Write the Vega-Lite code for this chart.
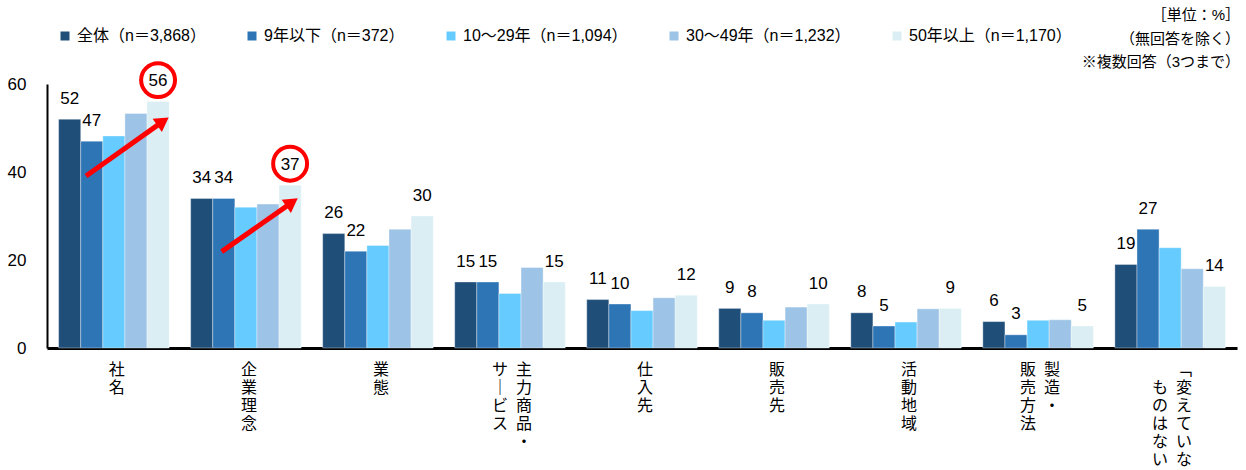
{
  "$schema": "https://vega.github.io/schema/vega-lite/v6.json",
  "width": 1190,
  "height": 264,
  "autosize": {"type": "none"},
  "padding": {"left": 47, "top": 84, "right": 9, "bottom": 122},
  "background": "white",
  "config": {
    "view": {"stroke": null},
    "font": "Liberation Sans, Noto Sans CJK JP",
    "axis": {"grid": false, "ticks": false, "labelColor": "black", "domainColor": "black"}
  },
  "title": {
    "text": ["［単位：%］", "（無回答を除く）", "※複数回答（3つまで）"],
    "anchor": "end",
    "frame": "group",
    "orient": "top",
    "fontSize": 15,
    "fontWeight": "normal",
    "lineHeight": 23.5,
    "offset": -42,
    "dx": 3,
    "color": "black",
    "font": "Liberation Sans, Noto Sans CJK JP"
  },
  "datasets": {
    "answers": [
      {"item": "社名", "series": "全体（n＝3,868）", "value": 52},
      {"item": "社名", "series": "9年以下（n＝372）", "value": 47},
      {"item": "社名", "series": "10～29年（n＝1,094）", "value": 48.2},
      {"item": "社名", "series": "30～49年（n＝1,232）", "value": 53.3},
      {"item": "社名", "series": "50年以上（n＝1,170）", "value": 56},
      {"item": "企業理念", "series": "全体（n＝3,868）", "value": 34},
      {"item": "企業理念", "series": "9年以下（n＝372）", "value": 34},
      {"item": "企業理念", "series": "10～29年（n＝1,094）", "value": 32.0},
      {"item": "企業理念", "series": "30～49年（n＝1,232）", "value": 32.7},
      {"item": "企業理念", "series": "50年以上（n＝1,170）", "value": 37},
      {"item": "業態", "series": "全体（n＝3,868）", "value": 26},
      {"item": "業態", "series": "9年以下（n＝372）", "value": 22},
      {"item": "業態", "series": "10～29年（n＝1,094）", "value": 23.3},
      {"item": "業態", "series": "30～49年（n＝1,232）", "value": 27.0},
      {"item": "業態", "series": "50年以上（n＝1,170）", "value": 30},
      {"item": "主力商品・サービス", "series": "全体（n＝3,868）", "value": 15},
      {"item": "主力商品・サービス", "series": "9年以下（n＝372）", "value": 15},
      {"item": "主力商品・サービス", "series": "10～29年（n＝1,094）", "value": 12.4},
      {"item": "主力商品・サービス", "series": "30～49年（n＝1,232）", "value": 18.3},
      {"item": "主力商品・サービス", "series": "50年以上（n＝1,170）", "value": 15},
      {"item": "仕入先", "series": "全体（n＝3,868）", "value": 11},
      {"item": "仕入先", "series": "9年以下（n＝372）", "value": 10},
      {"item": "仕入先", "series": "10～29年（n＝1,094）", "value": 8.5},
      {"item": "仕入先", "series": "30～49年（n＝1,232）", "value": 11.4},
      {"item": "仕入先", "series": "50年以上（n＝1,170）", "value": 12},
      {"item": "販売先", "series": "全体（n＝3,868）", "value": 9},
      {"item": "販売先", "series": "9年以下（n＝372）", "value": 8},
      {"item": "販売先", "series": "10～29年（n＝1,094）", "value": 6.3},
      {"item": "販売先", "series": "30～49年（n＝1,232）", "value": 9.3},
      {"item": "販売先", "series": "50年以上（n＝1,170）", "value": 10},
      {"item": "活動地域", "series": "全体（n＝3,868）", "value": 8},
      {"item": "活動地域", "series": "9年以下（n＝372）", "value": 5},
      {"item": "活動地域", "series": "10～29年（n＝1,094）", "value": 5.9},
      {"item": "活動地域", "series": "30～49年（n＝1,232）", "value": 8.9},
      {"item": "活動地域", "series": "50年以上（n＝1,170）", "value": 9},
      {"item": "製造・販売方法", "series": "全体（n＝3,868）", "value": 6},
      {"item": "製造・販売方法", "series": "9年以下（n＝372）", "value": 3},
      {"item": "製造・販売方法", "series": "10～29年（n＝1,094）", "value": 6.3},
      {"item": "製造・販売方法", "series": "30～49年（n＝1,232）", "value": 6.4},
      {"item": "製造・販売方法", "series": "50年以上（n＝1,170）", "value": 5},
      {"item": "「変えていない」ものはない", "series": "全体（n＝3,868）", "value": 19},
      {"item": "「変えていない」ものはない", "series": "9年以下（n＝372）", "value": 27},
      {"item": "「変えていない」ものはない", "series": "10～29年（n＝1,094）", "value": 22.8},
      {"item": "「変えていない」ものはない", "series": "30～49年（n＝1,232）", "value": 18.0},
      {"item": "「変えていない」ものはない", "series": "50年以上（n＝1,170）", "value": 14}
    ],
    "arrows": [
      {"fromPos": 0.295, "fromPct": 39.1, "toPos": 0.877, "toPct": 51.5},
      {"fromPos": 1.321, "fromPct": 21.9, "toPos": 1.853, "toPct": 33.1}
    ]
  },
  "layer": [
    {
      "data": {"name": "answers"},
      "encoding": {
        "x": {
          "field": "item",
          "type": "nominal",
          "sort": null,
          "scale": {
            "domain": ["社名", "企業理念", "業態", "主力商品・サービス", "仕入先", "販売先", "活動地域", "製造・販売方法", "「変えていない」ものはない"],
            "paddingInner": 0.163,
            "paddingOuter": 0.088
          },
          "axis": {
            "title": null,
            "labelAngle": 0,
            "labelFontSize": 16,
            "labelLineHeight": 18,
            "labelBaseline": "top",
            "labelPadding": 13,
            "labelAlign": {
              "condition": [
                {"test": "datum.value === '製造・販売方法'", "value": "left"},
                {"test": "datum.value === '主力商品・サービス' || datum.value === '「変えていない」ものはない'", "value": "right"}
              ],
              "value": "center"
            },
            "labelOffset": {
              "condition": [
                {"test": "datum.value === '製造・販売方法'", "value": -18},
                {"test": "datum.value === '主力商品・サービス' || datum.value === '「変えていない」ものはない'", "value": 22}
              ],
              "value": 3
            },
            "labelOverlap": false,
            "labelBound": false,
            "labelLimit": 0,
            "labelFont": "Liberation Sans, Noto Sans CJK JP",
            "domainWidth": 3,
            "labelExpr": "datum.value === '主力商品・サービス' ? ['サ\u2002主', '｜\u2002力', 'ビ\u2002商', 'ス\u2002品', '・'] : datum.value === '製造・販売方法' ? ['販\u2002製', '売\u2002造', '方\u2002・', '法'] : datum.value === '「変えていない」ものはない' ? ['﹁', 'も\u2002変', 'の\u2002え', 'は\u2002て', 'な\u2002い', 'い\u2002な', 'い'] : split(datum.value, '')"
          }
        },
        "xOffset": {
          "field": "series",
          "type": "nominal",
          "sort": null,
          "scale": {
            "domain": ["全体（n＝3,868）", "9年以下（n＝372）", "10～29年（n＝1,094）", "30～49年（n＝1,232）", "50年以上（n＝1,170）"],
            "paddingInner": 0,
            "paddingOuter": 0
          }
        },
        "y": {
          "field": "value",
          "type": "quantitative",
          "scale": {"domain": [0, 60], "nice": false},
          "axis": {
            "title": null,
            "values": [0, 20, 40, 60],
            "labelFontSize": 17,
            "labelPadding": 21,
            "labelFont": "Liberation Sans",
            "domainWidth": 2
          }
        }
      },
      "layer": [
        {
          "mark": {"type": "bar", "stroke": "#ffffff", "strokeWidth": 0.6, "strokeOpacity": 0.6},
          "encoding": {
            "color": {
              "field": "series",
              "type": "nominal",
              "sort": null,
              "scale": {
                "domain": ["全体（n＝3,868）", "9年以下（n＝372）", "10～29年（n＝1,094）", "30～49年（n＝1,232）", "50年以上（n＝1,170）"],
                "range": ["#1F4E79", "#2E75B6", "#66CCFF", "#9DC3E6", "#DAEEF3"]
              },
              "legend": {
                "orient": "none",
                "legendX": 10,
                "legendY": -56,
                "direction": "horizontal",
                "title": null,
                "symbolType": "square",
                "symbolSize": 81,
                "symbolStrokeWidth": 0,
                "symbolOpacity": 1,
                "labelFontSize": 16,
                "labelOffset": 4,
                "columnPadding": 38,
                "padding": 0,
                "labelFont": "Liberation Sans, Noto Sans CJK JP",
                "labelColor": "black",
                "labelLimit": 0
              }
            }
          }
        },
        {
          "transform": [
            {"filter": "datum.series === '全体（n＝3,868）' || datum.series === '9年以下（n＝372）' || datum.series === '50年以上（n＝1,170）'"}
          ],
          "mark": {"type": "text", "baseline": "alphabetic", "dy": -15.5, "fontSize": 17, "font": "Liberation Sans", "color": "black"},
          "encoding": {
            "text": {"field": "value", "type": "quantitative", "format": ".0f"}
          }
        },
        {
          "transform": [
            {"filter": "datum.series === '50年以上（n＝1,170）' && (datum.item === '社名' || datum.item === '企業理念')"}
          ],
          "mark": {"type": "point", "shape": "circle", "filled": false, "stroke": "#FF0000", "strokeWidth": 4, "size": 1150, "yOffset": -21.5, "opacity": 1}
        }
      ]
    },
    {
      "data": {"name": "arrows"},
      "layer": [
        {
          "mark": {"type": "rule", "color": "#FF0000", "strokeWidth": 5},
          "encoding": {
            "x": {"field": "fromPos", "type": "quantitative", "scale": {"domain": [0, 9], "nice": false, "zero": false}, "axis": null},
            "y": {"field": "fromPct", "type": "quantitative", "scale": {"domain": [0, 60], "nice": false}, "axis": null},
            "x2": {"field": "toPos"},
            "y2": {"field": "toPct"}
          }
        },
        {
          "mark": {"type": "point", "shape": "triangle-right", "filled": true, "color": "#FF0000", "size": 260, "angle": 325, "opacity": 1},
          "encoding": {
            "x": {"field": "toPos", "type": "quantitative", "scale": {"domain": [0, 9], "nice": false, "zero": false}, "axis": null},
            "y": {"field": "toPct", "type": "quantitative", "scale": {"domain": [0, 60], "nice": false}, "axis": null}
          }
        }
      ]
    }
  ],
  "resolve": {"scale": {"x": "independent", "y": "independent"}}
}
